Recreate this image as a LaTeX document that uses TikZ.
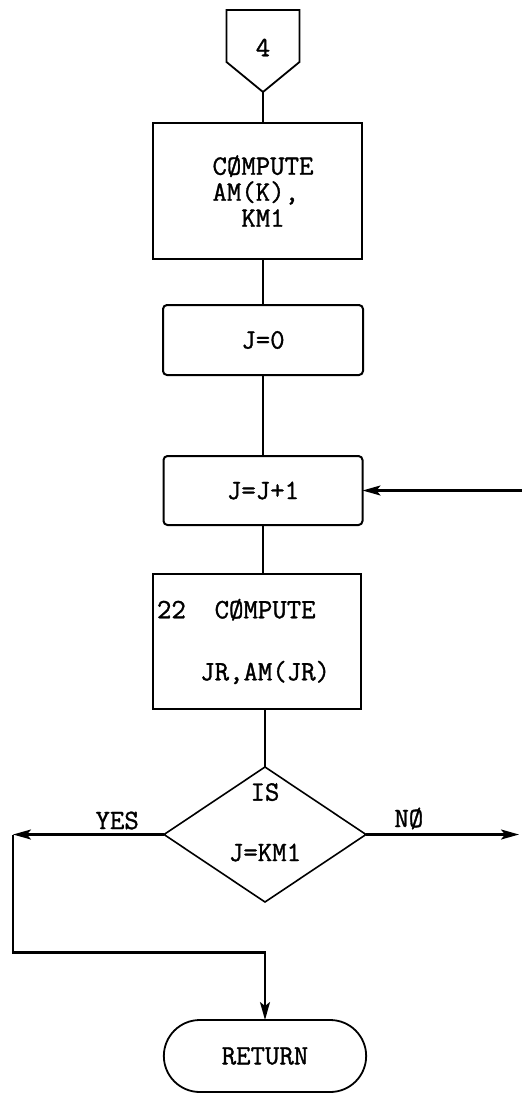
\documentclass[tikz,border=0pt]{standalone}
\usepackage{fontspec}
\newfontfamily\typewriter{Latin Modern Mono}[FakeBold=1.2]
\usepackage{tikz}
\usetikzlibrary{positioning,shapes.geometric,shapes.misc,arrows.meta}
\tikzset{
  procbox/.style={draw, line width=2pt, align=left, inner sep=4pt, outer sep=0pt},
  jbox/.style={procbox, rounded corners=4pt, align=center},
  decide/.style={draw, diamond, line width=1.6pt, inner sep=0pt, outer sep=0pt, minimum width=202pt, minimum height=135pt},
  terminal/.style={draw, rounded rectangle, line width=1.8pt, outer sep=0pt, minimum width=209pt, minimum height=72pt},
  txt/.style={inner sep=0pt},
  flowline/.style={line width=2.2pt},
  flowarrow/.style={flowline, -{Stealth[length=18pt,width=10pt,inset=4pt]}}
}

\begin{document}
\begin{tikzpicture}[x=1pt, y=1pt, font=\typewriter\fontsize{28}{26}\selectfont]
  \useasboundingbox (0,0) rectangle (522,-1093);

  % off-page connector
  \node[txt, outer sep=0pt, minimum width=73pt, minimum height=82pt] (conn) at (263,-51) {\raisebox{7pt}{4}};
  \draw[line width=1.8pt] (conn.north west) -- (conn.north east) -- ([yshift=30pt]conn.south east)
    -- (conn.south) -- ([yshift=30pt]conn.south west) -- cycle;

  \node[procbox, minimum width=209pt, minimum height=136pt, below=31pt of conn, xshift=-6pt] (amk) {\hspace*{12pt}CØMPUTE\\\hspace*{12pt}AM(K),\\\hspace*{12pt}\phantom{AM}KM1};
  \node[jbox, minimum width=200pt, minimum height=70pt, below=46pt of amk, xshift=6pt] (jzero) {J=0};
  \node[jbox, minimum width=199pt, minimum height=69pt, below=81pt of jzero] (jinc) {J=J+1};
  \node[procbox, minimum width=208pt, minimum height=135pt, text width=200pt, below=49pt of jinc, xshift=-6pt] (calc) {22\phantom{XX}CØMPUTE\\[36pt]\phantom{22X}JR,AM(JR)};
  \node[decide, below=58pt of calc, xshift=8pt] (dec) {};
  \node[txt, below=16pt of dec.north] (isq) {IS};
  \node[txt] (cond) at ([yshift=-18pt]dec.center) {J=KM1};
  \node[terminal, below=118pt of dec] (ret) {RETURN};

  \coordinate[left=151pt of dec.west] (yesend);
  \coordinate[below=118pt of yesend] (yesdown);
  \coordinate[right=153pt of dec.east] (noend);
  \coordinate[right=160pt of jinc.east] (loopin);

  % connectors
  \draw[flowline] (conn.south) -- (conn.south |- amk.north);
  \draw[flowline] (amk.south -| jzero.north) -- (jzero.north);
  \draw[flowline] (jzero) -- (jinc);
  \draw[flowline] (jinc.south) -- (jinc.south |- calc.north);
  \draw[flowline] (calc.south -| dec.north) -- (dec.north);
  \draw[flowarrow] (loopin) -- (jinc.east);
  \draw[flowarrow] (dec.west) -- node[txt, above=4pt, pos=0.31] {YES} (yesend);
  \draw[flowarrow] (dec.east) -- node[txt, above=4pt, pos=0.28] {NØ} (noend);
  \draw[flowarrow] (yesend) -- (yesdown) -| (ret.north);
\end{tikzpicture}
\end{document}
